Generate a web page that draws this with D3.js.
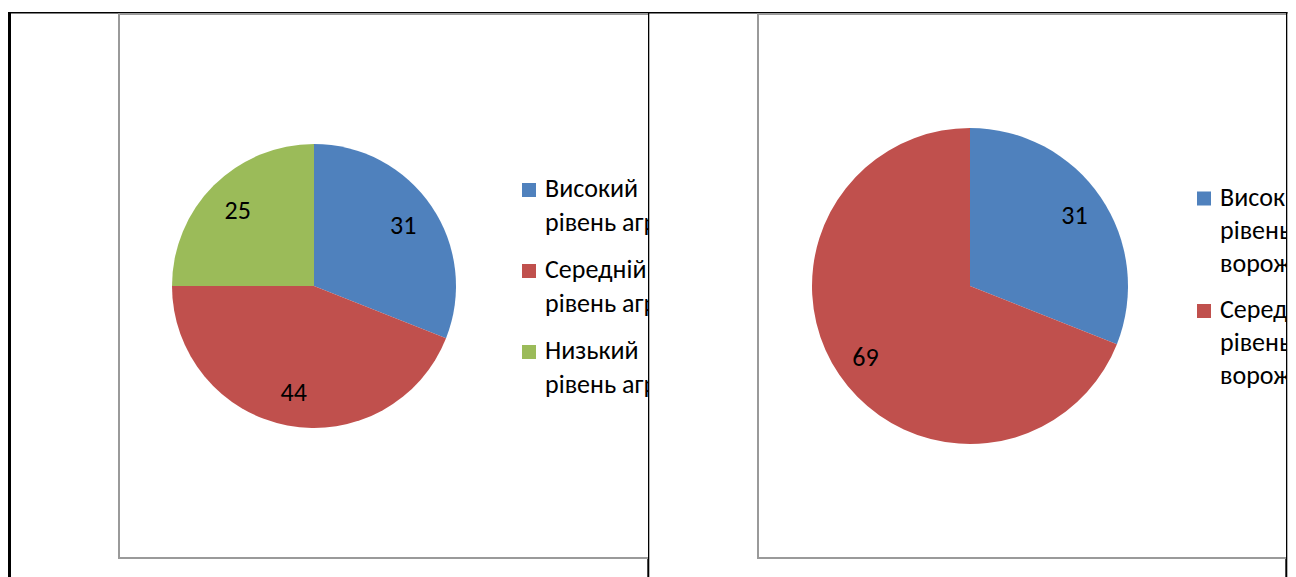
<!DOCTYPE html>
<html>
<head>
<meta charset="utf-8">
<script src="https://cdn.jsdelivr.net/npm/d3@7"></script>
<style>
  html, body { margin: 0; padding: 0; background: #ffffff; }
  svg { display: block; }
  text { font-family: Carlito, "Open Sans", "Noto Sans", sans-serif; fill: #000; }
</style>
</head>
<body>
<svg id="chart" width="1296" height="577"></svg>
<script>
// ---- data ----
const categories1 = ["Високий рівень агресивності", "Середній рівень агресивності", "Низький рівень агресивності"];
const values1 = [31, 44, 25];
const categories2 = ["Високий рівень ворожості", "Середній рівень ворожості"];
const values2 = [31, 69];
const sliceColors = ["#4F81BD", "#C0504D", "#9BBB59"];

const svg = d3.select("#chart");

// table cell borders (behind charts)
svg.append("rect").attr("x", 8).attr("y", 12).attr("width", 3).attr("height", 565).attr("fill", "#000");
svg.append("rect").attr("x", 8).attr("y", 12).attr("width", 1279.5).attr("height", 1.5).attr("fill", "#000");
svg.append("rect").attr("x", 647.3).attr("y", 12).attr("width", 2).attr("height", 565).attr("fill", "#000");
svg.append("rect").attr("x", 1285.3).attr("y", 12).attr("width", 2).attr("height", 565).attr("fill", "#000");

function drawChart(cfg) {
  const clipId = "clip" + cfg.id;
  svg.append("clipPath").attr("id", clipId)
    .append("rect").attr("x", cfg.x0).attr("y", cfg.y0)
    .attr("width", cfg.x1 - cfg.x0).attr("height", cfg.y1 - cfg.y0);

  const g = svg.append("g").attr("clip-path", `url(#${clipId})`);
  // chart area
  g.append("rect")
    .attr("x", cfg.x0 + 1).attr("y", cfg.y0 + 1)
    .attr("width", cfg.frameW).attr("height", cfg.y1 - cfg.y0 - 2)
    .attr("fill", "#fff").attr("stroke", "#9a9a9a").attr("stroke-width", 2);

  const pie = d3.pie().sort(null).value(d => d);
  const arcs = pie(cfg.values);
  const arc = d3.arc().innerRadius(0).outerRadius(cfg.r);
  const labelArc = d3.arc().innerRadius(cfg.r * cfg.lf).outerRadius(cfg.r * cfg.lf);

  const pg = g.append("g").attr("transform", `translate(${cfg.cx},${cfg.cy})`);
  pg.selectAll("path.slice").data(arcs).enter().append("path")
    .attr("class", "slice")
    .attr("d", arc)
    .attr("fill", (d, i) => sliceColors[i]);

  pg.selectAll("text.lbl").data(arcs).enter().append("text")
    .attr("class", "lbl")
    .attr("transform", d => {
      const c = labelArc.centroid(d);
      return `translate(${c[0]},${c[1]})`;
    })
    .attr("text-anchor", "middle")
    .attr("dy", "0.35em")
    .attr("font-size", 26)
    .text(d => d.data);

  // legend
  const lg = g.append("g");
  let y = cfg.legY; // first baseline
  cfg.categories.forEach((cat, i) => {
    const lines = cfg.split(cat);
    lg.append("rect")
      .attr("x", cfg.legX).attr("y", y - 14)
      .attr("width", 14).attr("height", 14)
      .attr("fill", sliceColors[i]);
    const t = lg.append("text")
      .attr("x", cfg.legX + 23).attr("y", y)
      .attr("font-size", 26);
    lines.forEach((ln, j) => {
      t.append("tspan").attr("x", cfg.legX + 23).attr("y", y + j * cfg.lineH).text(ln);
    });
    y += (lines.length - 1) * cfg.lineH + cfg.itemGap;
  });
}

drawChart({
  id: 1, x0: 118, y0: 13, x1: 648, y1: 559, frameW: 600,
  cx: 314, cy: 286, r: 142, lf: 0.76,
  values: values1, categories: categories1,
  legX: 522, legY: 197, lineH: 33.5, itemGap: 47.5,
  split: s => { const w = s.split(" "); return [w[0], w.slice(1).join(" ")]; }
});

drawChart({
  id: 2, x0: 757, y0: 13, x1: 1286, y1: 559, frameW: 600,
  cx: 970, cy: 286, r: 158, lf: 0.8,
  values: values2, categories: categories2,
  legX: 1197, legY: 205.5, lineH: 33, itemGap: 46.5,
  split: s => s.split(" ")
});
</script>
</body>
</html>
